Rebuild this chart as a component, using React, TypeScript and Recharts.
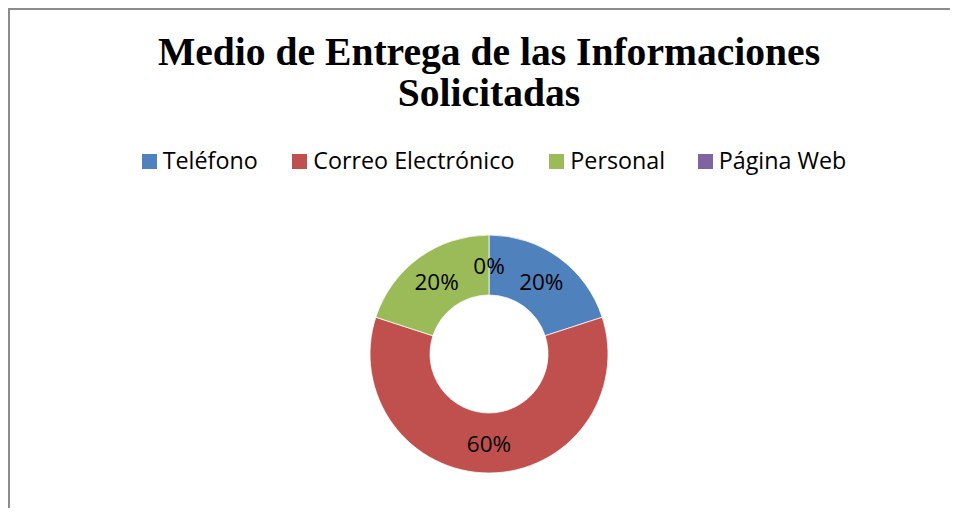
import React from 'react';
import { PieChart, Pie, Cell } from 'recharts';

const CATEGORIES = ['Teléfono', 'Correo Electrónico', 'Personal', 'Página Web'];
const VALUES = [20, 60, 20, 0];
const COLORS = ['#4F81BD', '#C0504D', '#9BBB59', '#8064A2'];
const TITLE_LINES = ['Medio de Entrega de las Informaciones', 'Solicitadas'];

const LEGEND_WIDTHS = [150.6, 257, 148.4, 170];
const SANS = "'Open Sans', 'Noto Sans', sans-serif";
const RAD = Math.PI / 180;

const data = CATEGORIES.map((name, i) => ({ name, value: VALUES[i] }));

const renderLabel = (props: any) => {
  const { cx, cy, midAngle, innerRadius, outerRadius, percent } = props;
  const r = (innerRadius + outerRadius) / 2;
  const x = cx + r * Math.cos(-midAngle * RAD);
  const y = cy + r * Math.sin(-midAngle * RAD);
  return (
    <text x={x} y={y + 8.5} textAnchor="middle" fill="#000" fontSize={22.5} fontFamily={SANS}>
      {`${Math.round((percent || 0) * 100)}%`}
    </text>
  );
};

export default function App() {
  return (
    <div
      style={{
        position: 'relative',
        width: 942,
        height: 500,
        boxSizing: 'border-box',
        borderLeft: '2px solid #8c8c8c',
        borderTop: '2px solid #8c8c8c',
        background: '#fff',
      }}
    >
      <div
        style={{
          position: 'absolute',
          left: 79,
          top: 21.5,
          width: 800,
          textAlign: 'center',
          fontFamily: "'Liberation Serif', serif",
          fontWeight: 'bold',
          fontSize: 39.6,
          lineHeight: '41px',
          color: '#000',
        }}
      >
        {TITLE_LINES.map(line => (
          <div key={line}>{line}</div>
        ))}
      </div>

      <div
        style={{
          position: 'absolute',
          left: 131.7,
          top: 137.5,
          display: 'flex',
          fontFamily: SANS,
          fontSize: 23.3,
          lineHeight: '25px',
          color: '#000',
          whiteSpace: 'nowrap',
        }}
      >
        {CATEGORIES.map((name, i) => (
          <div key={name} style={{ width: LEGEND_WIDTHS[i], display: 'flex', alignItems: 'center' }}>
            <span style={{ width: 15, height: 15, background: COLORS[i], marginRight: 6, marginTop: 2, flex: 'none' }} />
            <span>{name}</span>
          </div>
        ))}
      </div>

      <PieChart width={940} height={498} margin={{ top: 0, right: 0, bottom: 0, left: 0 }}>
        <Pie
          data={data}
          dataKey="value"
          nameKey="name"
          cx={479}
          cy={344}
          innerRadius={59}
          outerRadius={119}
          startAngle={90}
          endAngle={-270}
          strokeWidth={0.75}
          labelLine={false}
          label={renderLabel}
          isAnimationActive={false}
        >
          {data.map((d, i) => (
            <Cell key={d.name} fill={COLORS[i]} stroke={d.value > 0 ? '#fff' : 'none'} />
          ))}
        </Pie>
      </PieChart>
    </div>
  );
}
